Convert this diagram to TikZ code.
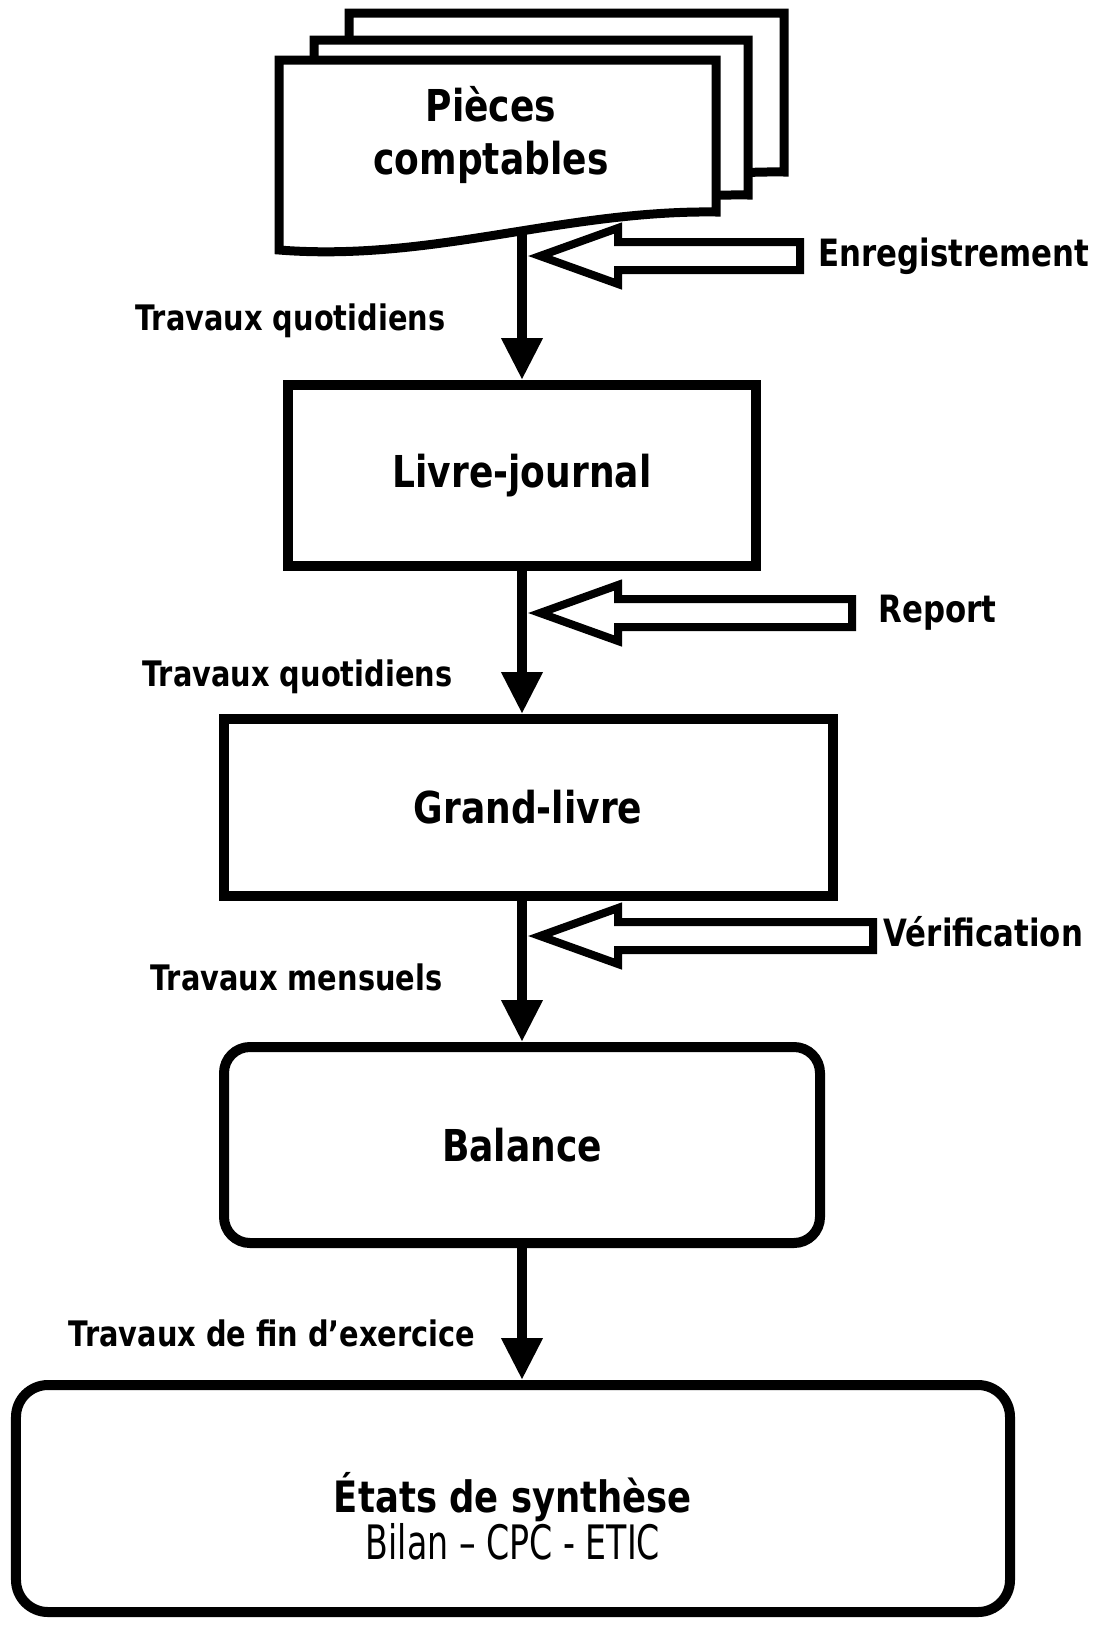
\documentclass[tikz,border=0pt]{standalone}
\usepackage{fontspec}
\usepackage{tikz}
\usetikzlibrary{arrows.meta,positioning,calc}
\newfontfamily\tahoma[FakeStretch=0.82]{DejaVu Sans}
\newfontfamily\tahomanarrow[FakeStretch=0.7]{DejaVu Sans}
\tikzset{
  stepbox/.style ={draw=black,line width=1mm,fill=white,inner sep=0pt,align=center,
                   font=\tahoma\bfseries\fontsize{12.5}{15.3}\selectfont},
  roundbox/.style={stepbox,rounded corners=2.6mm},
  lab/.style     ={inner sep=0pt,font=\tahoma\bfseries\fontsize{10}{12}\selectfont},
  sidelab/.style ={inner sep=0pt,font=\tahoma\bfseries\fontsize{10.7}{13}\selectfont},
  docpage/.style ={draw=black,line width=0.9mm,fill=white},
  flow/.style    ={-{Triangle[length=4.2mm,width=3.9mm]},line width=1mm,draw=black},
  hollow/.style  ={draw=black,line width=0.8mm,fill=white}
}
% one sheet of the document pile: left, right, top, bottom right, bottom left
\newcommand\docsheet[5]{%
  \draw[docpage] (#1,#3) -- (#2,#3) -- (#2,#4)
    .. controls ({#2-15.3},{#4+0.2}) and ({#1+15.3},{#5-1.2}) .. (#1,#5) -- cycle;}
% hollow arrow from a tail coordinate to a tip coordinate on the same level
\newcommand\hollowarrow[2]{%
  \draw[hollow] (#1) -- ++(7.8,2.8) -- ++(0,-1.4) -- ([yshift=1.4mm]#2)
    -- ([yshift=-1.4mm]#2) -- ([xshift=7.8mm,yshift=-1.4mm]#1) -- ++(0,-1.4) -- cycle;}

\begin{document}
\begin{tikzpicture}[x=1mm,y=1mm]
  \useasboundingbox (0,0) rectangle (110.1,-163.4);

  % pile of documents
  \docsheet{34.9}{78.4}{-1.3}{-17.2}{-21.0}
  \docsheet{31.4}{74.8}{-4.0}{-19.5}{-23.3}
  \docsheet{27.9}{71.6}{-6.0}{-21.2}{-25.0}
  \node[align=center,inner sep=0pt,font=\tahoma\bfseries\fontsize{12.5}{15.3}\selectfont]
    (pieces) at (49.1,-13.5) {Pièces\\comptables};
  \coordinate (docfoot) at (52.2,-23.0);

  % books and statements
  \node[stepbox,minimum width=46.8mm,minimum height=18.1mm] (livre) at (52.2,-47.55) {Livre-journal};
  \node[stepbox,minimum width=60.9mm,minimum height=17.7mm,below=14.3mm of livre,xshift=0.6mm] (grand) {Grand-livre};
  \node[roundbox,minimum width=59.6mm,minimum height=19.6mm,below=14.1mm of grand,xshift=-0.6mm] (balance) {Balance};
  \node[roundbox,rounded corners=3.2mm,minimum width=99.4mm,minimum height=22.7mm,below=13.2mm of balance,xshift=-0.9mm,
        font=\tahoma\bfseries\fontsize{12.3}{13.3}\selectfont] (etats)
    {\rule{0pt}{7.6mm}États de synthèse\\{\tahomanarrow\mdseries\fontsize{13.5}{13.3}\selectfont Bilan – CPC - ETIC}};

  \draw[flow] (docfoot) -- (livre.north);
  \draw[flow] (livre.south) -- (livre.south |- grand.north);
  \draw[flow] (balance.north |- grand.south) -- (balance.north);
  \draw[flow] (balance.south) -- (balance.south |- etats.north);

  % work labels
  \node[lab,anchor=east] (tq1) at (44.6,-32.1) {Travaux quotidiens};
  \node[lab,anchor=east] (tq2) at (45.3,-67.7) {Travaux quotidiens};
  \node[lab,anchor=east] (tm)  at (44.3,-97.7) {Travaux mensuels};
  \node[lab,anchor=east] (tfe) at (47.6,-133.3) {Travaux de fin d’exercice};

  % operations
  \coordinate (enrtip) at (54.0,-25.6);  \coordinate (enrtail) at (80.0,-25.6);
  \coordinate (reptip) at (54.0,-61.3);  \coordinate (reptail) at (85.2,-61.3);
  \coordinate (vertip) at (54.0,-93.6);  \coordinate (vertail) at (87.3,-93.6);
  \hollowarrow{enrtip}{enrtail}
  \hollowarrow{reptip}{reptail}
  \hollowarrow{vertip}{vertail}
  \node[sidelab,right=1.8mm of enrtail] (enr) {Enregistrement};
  \node[sidelab,right=2.6mm of reptail] (rep) {Report};
  \node[sidelab,right=1.0mm of vertail,yshift=0.4mm] (ver) {Vérification};
\end{tikzpicture}
\end{document}
